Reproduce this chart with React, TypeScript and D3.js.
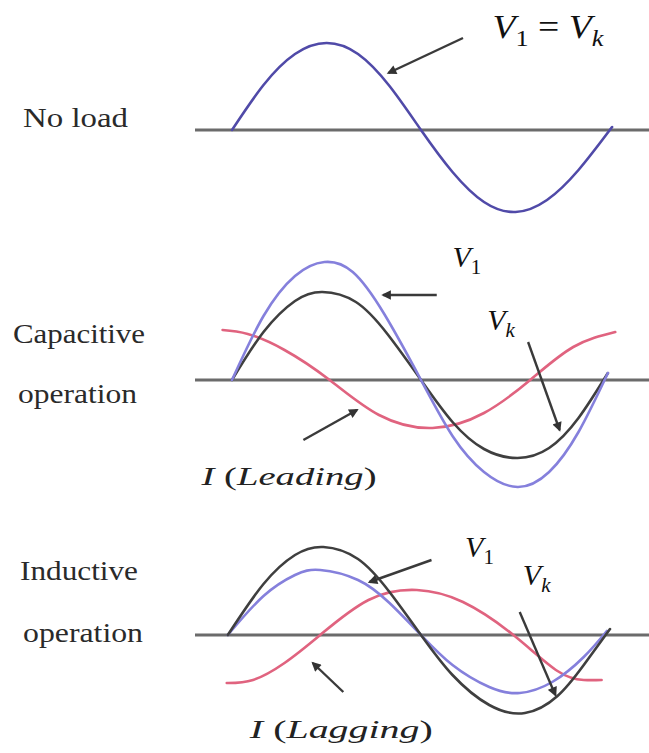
import React from 'react';
import * as d3 from 'd3';

// Phase (degrees) vs. amplitude
const noLoadV: [number, number][] = [
  [0, 0], [30, 45], [60, 76], [90, 87], [120, 76], [150, 44], [180, 0],
  [210, -42], [240, -72], [270, -82], [300, -70], [330, -40], [362, 3],
];
const capV1: [number, number][] = [
  [0, 0], [30, 64], [60, 104], [88, 118], [115, 108], [145, 66], [180, 0],
  [210, -56], [240, -92], [272, -107], [302, -92], [330, -52], [358, 7],
];
const capVk: [number, number][] = [
  [0, 0], [30, 48], [60, 79], [86, 88], [118, 78], [148, 46], [180, 0],
  [210, -42], [240, -69], [272, -78], [302, -68], [330, -38], [358, 7],
];
const capI: [number, number][] = [
  [-9, 50], [15, 46], [50, 30], [93, 0], [140, -35], [191, -48],
  [240, -33], [284, 0], [325, 33], [365, 48],
];
const indV1: [number, number][] = [
  [-4, 0], [30, 39], [60, 60], [84, 65], [120, 55], [150, 32], [180, 0],
  [210, -30], [245, -52], [274, -58], [305, -47], [335, -22], [357, 4],
];
const indVk: [number, number][] = [
  [-4, 0], [30, 51], [60, 80], [87, 88], [120, 76], [150, 43], [180, 0],
  [210, -40], [245, -70], [279, -78], [310, -61], [335, -30], [360, 6],
];
const indI: [number, number][] = [
  [-5, -48], [20, -45], [50, -28], [84, 0], [130, 35], [176, 45],
  [220, 33], [268, 0], [310, -36], [335, -45], [352, -45],
];

const rowLabels = [
  { lines: ['No load'], xs: [23], ys: [127], ws: [105] },
  { lines: ['Capacitive', 'operation'], xs: [13, 18], ys: [343, 403], ws: [132, 119] },
  { lines: ['Inductive', 'operation'], xs: [20, 23], ys: [580, 642], ws: [118, 120] },
];

// arrows: [panel, fromDeg, fromVal, toDeg, toVal]
const arrows: [number, number, number, number, number][] = [
  [0, 220, 92, 149, 57],
  [1, 195, 85, 144, 85],
  [1, 282, 38, 312, -50],
  [1, 68, -60, 119, -30],
  [2, 190, 75, 131, 53],
  [2, 274, 23, 308, -60],
  [2, 106, -57, 77, -28],
];

const W = 649;
const H = 753;
const baselines = [130, 380, 635];

export default function App() {
  const x = d3.scaleLinear().domain([0, 360]).range([232, 610]);
  const ys = baselines.map((b) => d3.scaleLinear().domain([-100, 100]).range([b + 100, b - 100]));
  const lineFor = (yi: number) =>
    d3.line<[number, number]>()
      .x((d) => x(d[0]))
      .y((d) => ys[yi](d[1]))
      .curve(d3.curveNatural);

  const blueDark = '#504aa8';
  const blue = '#8580dc';
  const black = '#3f3f3f';
  const red = '#e0637f';
  const sw = 2.6;

  const series = [
    { p: 0, d: noLoadV, c: blueDark },
    { p: 1, d: capI, c: red },
    { p: 1, d: capVk, c: black },
    { p: 1, d: capV1, c: blue },
    { p: 2, d: indI, c: red },
    { p: 2, d: indV1, c: blue },
    { p: 2, d: indVk, c: black },
  ];

  const mf = "'Liberation Serif', 'Times New Roman', serif";
  const lbl = (p: number, deg: number, val: number) => ({ x: x(deg), y: ys[p](val) });

  const vsub = (main: string, sub: string, size: number, subItalic: boolean, dy: number) => [
    <tspan key={main + 'm'} fontStyle="italic">{main}</tspan>,
    <tspan key={main + 's'} fontSize={size * 0.7} dy={dy} fontStyle={subItalic ? 'italic' : 'normal'}>{sub}</tspan>,
  ];

  const l0 = lbl(0, 248, 92);
  const l1 = lbl(1, 210, 113);
  const l2 = lbl(1, 243, 50);
  const l3 = lbl(1, -29, -105);
  const l4 = lbl(2, 222, 78);
  const l5 = lbl(2, 277, 50);
  const l6 = lbl(2, 17, -103);

  return (
    <svg width={W} height={H} style={{ position: 'absolute', left: 0, top: 0, background: '#fff' }}>
      <defs>
        <marker id="ah" viewBox="0 0 10 10" refX={8} refY={5} markerWidth={5} markerHeight={4} orient="auto" markerUnits="strokeWidth">
          <path d="M0,0 L10,5 L0,10 z" fill="#333" />
        </marker>
      </defs>
      <rect width={W} height={H} fill="#fff" />
      {baselines.map((b, i) => (
        <line key={i} x1={195} x2={W} y1={b} y2={b} stroke="#6b6b6b" strokeWidth={3} />
      ))}
      {series.map((s, i) => (
        <path key={i} d={lineFor(s.p)(s.d) || ''} fill="none" stroke={s.c} strokeWidth={sw} strokeLinecap="round" />
      ))}
      {arrows.map((a, i) => (
        <line key={i} x1={x(a[1])} y1={ys[a[0]](a[2])} x2={x(a[3])} y2={ys[a[0]](a[4])}
          stroke="#3a3a3a" strokeWidth={2.4} markerEnd="url(#ah)" />
      ))}
      {rowLabels.map((r, i) =>
        r.lines.map((t, j) => (
          <text key={i + '-' + j} x={r.xs[j]} y={r.ys[j]} fontFamily={mf} fontSize={28} fill="#2a2a2a"
            textLength={r.ws[j]} lengthAdjust="spacingAndGlyphs">{t}</text>
        ))
      )}
      <text x={l0.x} y={l0.y} fontFamily={mf} fontSize={34} fill="#111" textLength={111} lengthAdjust="spacingAndGlyphs">
        {vsub('V', '1', 34, false, 8)}
        <tspan dy={-8}> = </tspan>
        {vsub('V', 'k', 34, true, 8)}
      </text>
      <text x={l1.x} y={l1.y} fontFamily={mf} fontSize={30} fill="#111">{vsub('V', '1', 30, false, 7)}</text>
      <text x={l2.x} y={l2.y} fontFamily={mf} fontSize={30} fill="#111">{vsub('V', 'k', 30, true, 7)}</text>
      <text x={l3.x} y={l3.y} fontFamily={mf} fontSize={26} fontStyle="italic" fill="#222" textLength={175} lengthAdjust="spacingAndGlyphs">
        I <tspan fontStyle="normal">(</tspan>Leading<tspan fontStyle="normal">)</tspan>
      </text>
      <text x={l4.x} y={l4.y} fontFamily={mf} fontSize={30} fill="#111">{vsub('V', '1', 30, false, 7)}</text>
      <text x={l5.x} y={l5.y} fontFamily={mf} fontSize={30} fill="#111">{vsub('V', 'k', 30, true, 7)}</text>
      <text x={l6.x} y={l6.y} fontFamily={mf} fontSize={26} fontStyle="italic" fill="#222" textLength={183} lengthAdjust="spacingAndGlyphs">
        I <tspan fontStyle="normal">(</tspan>Lagging<tspan fontStyle="normal">)</tspan>
      </text>
    </svg>
  );
}
